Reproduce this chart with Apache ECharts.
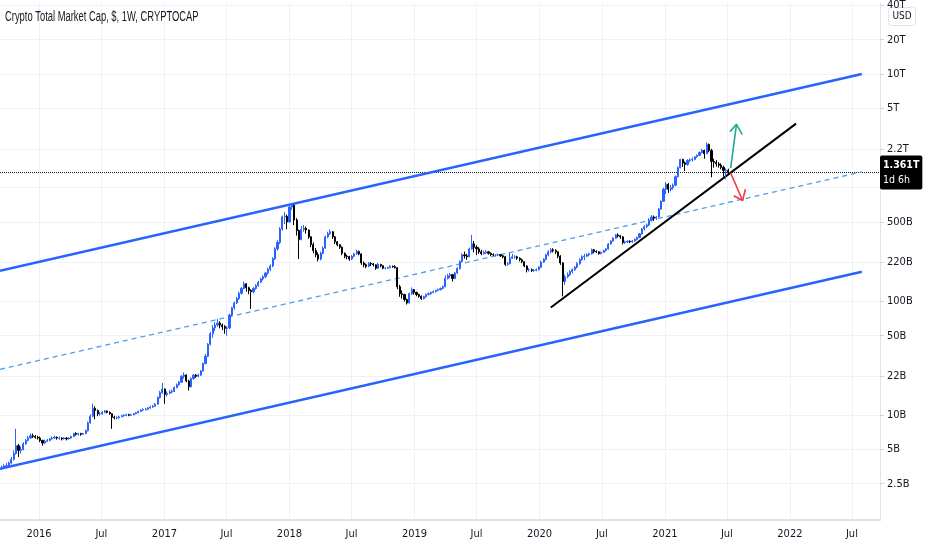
<!DOCTYPE html>
<html><head><meta charset="utf-8">
<script src="https://cdn.jsdelivr.net/npm/echarts@6/dist/echarts.min.js"></script>
<style>html,body{margin:0;padding:0;background:#fff}#c{width:932px;height:550px}</style>
</head><body><div id="c"></div>
<script>
// ---- data (values in billions of USD) ----
const chartTitle = 'Crypto Total Market Cap, $, 1W, CRYPTOCAP';
const firstWeek = '2015-09-14';
const firstOpen = 3.4;
const closes = [
3.5,3.6,3.6,3.8,4.1,4.6,5.4,4.9,5.0,5.6,
6.0,6.3,6.6,6.5,6.4,6.3,6.0,5.7,5.9,6.0,
6.2,6.3,6.4,6.3,6.3,6.2,6.3,6.2,6.3,6.5,
6.9,6.8,6.9,6.8,6.9,7.3,8.6,9.8,11.5,11.0,
10.3,10.3,10.6,10.9,10.6,10.3,9.6,9.5,9.5,9.7,
9.9,10.0,10.1,10.0,10.1,10.3,10.5,10.8,11.1,11.2,
11.3,11.6,11.8,12.0,12.5,14.3,15.8,17.0,15.2,15.6,
16.0,16.2,17.5,18.5,19.5,22.0,22.6,20.0,17.8,21.0,
22.5,22.0,22.5,24.5,28.5,33.0,42.0,52.0,58.5,62.0,
64.5,62.0,60.0,58.0,58.5,76.0,88.0,97.0,106,118,
130,143,132,125,122,130,138,148,158,165,
178,192,205,238,290,330,434,555,560,500,
676,700,520,420,350,430,440,425,370,316,
280,258,236,265,295,370,395,410,370,335,
315,300,265,250,248,236,250,262,275,262,
218,210,204,216,214,210,196,212,206,196,
196,198,204,202,198,135,117,115,104,97,
117,127,120,115,111,106,110,115,117,120,
122,125,127,130,135,160,168,172,159,178,
195,224,257,252,247,290,321,300,290,273,
263,270,273,265,258,257,257,258,252,247,
212,215,240,247,247,240,233,224,205,190,
190,187,188,190,200,222,235,257,273,285,
280,273,250,218,150,165,172,183,190,200,
215,233,247,250,257,263,285,275,273,263,
270,280,290,320,340,360,385,378,370,330,
334,338,334,340,352,365,393,434,455,470,
520,553,540,553,649,760,970,1073,970,1000,
1051,1250,1500,1774,1650,1604,1739,1760,1774,1870,
1922,2042,2126,1990,2399,2126,1700,1670,1620,1580,
1510,1420,1421,1361];
const highs = [
3.6,3.7,3.8,3.9,4.3,4.9,7.6,5.6,5.3,5.8,
6.2,6.6,6.9,6.9,6.7,6.6,6.5,6.1,6.1,6.2,
6.3,6.5,6.6,6.5,6.5,6.4,6.4,6.4,6.4,6.6,
7.0,7.1,7.0,7.0,7.0,7.5,8.8,10.2,12.6,12.0,
11.2,10.7,10.9,11.1,11.0,10.8,10.4,9.9,9.8,9.9,
10.1,10.2,10.3,10.3,10.3,10.5,10.7,11.0,11.3,11.5,
11.6,11.8,12.1,12.3,12.8,14.6,16.4,19.2,17.2,16.2,
16.6,16.8,17.9,19.0,20.0,22.5,23.8,22.8,20.5,21.5,
23.0,23.0,23.2,25.0,29.0,34.5,43.0,54.0,62.0,66.0,
70,67,64,62,61,78,90,100,110,122,
134,150,145,135,128,134,142,152,162,170,
182,198,212,245,300,345,450,570,610,580,
690,730,710,540,430,460,470,455,430,375,
330,295,270,275,305,380,410,430,415,375,
340,320,305,270,258,252,256,268,285,280,
265,225,215,222,222,218,212,218,214,208,
200,202,208,207,208,200,140,125,117,106,
120,133,129,122,117,113,112,117,120,122,
125,127,130,133,138,170,175,178,175,182,
200,230,265,275,262,298,385,340,312,300,
285,280,282,278,270,265,262,264,262,256,
252,222,268,262,255,252,245,238,226,208,
196,195,193,196,205,228,240,262,282,295,
294,288,276,255,222,172,180,188,196,205,
222,240,255,262,265,268,292,290,282,276,
275,285,295,326,345,368,392,398,385,375,
342,345,345,346,358,372,400,442,470,485,
540,575,570,565,665,775,1000,1120,1100,1060,
1090,1280,1540,1800,1800,1700,1780,1810,1850,1900,
1960,2080,2200,2160,2500,2450,2200,1800,1750,1680,
1640,1560,1480,1470];
const lows = [
3.3,3.4,3.5,3.5,3.7,4.0,4.5,4.3,4.6,4.9,
5.5,5.9,6.2,6.3,6.2,6.1,5.8,5.4,5.6,5.8,
5.9,6.1,6.2,6.1,6.1,6.0,6.1,6.0,6.1,6.2,
6.4,6.6,6.6,6.6,6.7,6.8,7.2,8.4,9.6,9.2,
9.8,9.9,10.1,10.4,10.4,10.1,7.6,9.2,9.2,9.3,
9.6,9.7,9.8,9.8,9.9,10.0,10.2,10.4,10.7,10.9,
11.0,11.1,11.4,11.6,11.9,12.4,14.0,15.4,12.6,14.6,
15.3,15.6,16.0,17.2,18.2,19.2,21.0,19.5,16.5,17.5,
20.5,21.3,21.6,22.2,24.2,28.0,32.5,41.0,48.0,55.0,
60,58,56,52,50,57,74,85,95,103,
115,128,122,116,86,118,127,135,145,153,
160,172,185,200,232,280,320,420,480,430,
495,640,470,380,236,345,410,395,355,300,
265,245,225,230,260,290,360,385,355,320,
305,290,255,240,235,228,232,245,258,255,
210,200,196,200,205,203,190,194,200,192,
191,193,196,198,195,128,110,106,100,94,
96,114,115,111,108,103,104,108,113,115,
118,120,123,125,128,133,156,160,150,157,
175,190,220,238,232,245,285,270,255,262,
255,258,262,258,250,250,248,250,246,240,
205,206,212,236,238,232,225,217,200,180,
183,182,182,184,188,196,218,230,250,265,
270,262,240,210,111,140,160,168,176,186,
195,210,228,230,245,250,258,265,266,258,
260,266,275,286,315,335,355,365,355,318,
320,325,326,328,335,345,360,385,420,440,
460,505,510,520,545,640,750,880,900,930,
960,1030,1230,1480,1520,1400,1560,1680,1700,1740,
1830,1900,2000,1800,1980,2050,1235,1500,1530,1500,
1450,1250,1187,1320];

const yTickValues  = [2.5,5,10,22,50,100,220,500,1000,2200,5000,10000,20000,40000];
const yLabelValues = [2.5,5,10,22,50,100,220,500,2200,5000,10000,20000,40000];
const xTickDates = ['2016-01-01','2016-07-01','2017-01-01','2017-07-01','2018-01-01','2018-07-01',
  '2019-01-01','2019-07-01','2020-01-01','2020-07-01','2021-01-01','2021-07-01','2022-01-01','2022-07-01'];
const lastPrice = 1361;
const lastPriceText = '1.361T';
const countdownText = '1d 6h';
const currency = 'USD';

const channelTop    = [['2015-09-09', 186.5], ['2022-07-30', 10000]];
const channelMid    = [['2015-09-09', 25.3],  ['2022-07-30', 1379]];
const channelBottom = [['2015-09-09', 3.38],  ['2022-07-30', 182.8]];
const trendLine     = [['2020-02-03', 88.6],  ['2022-01-19', 3660]];
const upArrowShaft  = [['2021-07-12', 1489],  ['2021-07-29', 3610]];
const upArrowHead   = [['2021-07-10', 3114],  ['2021-07-29', 3610], ['2021-08-15', 2932]];
const downArrowShaft= [['2021-07-12', 1347],  ['2021-08-16', 773]];
const downArrowHead = [['2021-07-21', 851],   ['2021-08-16', 773],  ['2021-08-24', 970]];

// ---- build candle table ----
function parseDay(s){ const p=s.split('-').map(Number); return Date.UTC(p[0],p[1]-1,p[2]); }
const t0 = parseDay(firstWeek);
const candles = closes.map((c,i)=>{
  const open = i===0 ? firstOpen : closes[i-1];
  return [t0 + i*7*86400000, open, c, lows[i], highs[i]];
});

const FONT = '"DejaVu Sans Condensed", "Liberation Sans Narrow", "Liberation Sans", sans-serif';
const TFONT = '"Liberation Sans", sans-serif';
const chart = echarts.init(document.getElementById('c'), null, {renderer:'canvas'});

function lineSeries(data, color, width, type){
  return { type:'line', data:data.map(d=>[parseDay(d[0]), d[1]]), symbol:'none', silent:true,
    animation:false, z:5, lineStyle:{color:color, width:width, type:type||'solid'} };
}

chart.setOption({
  animation:false,
  backgroundColor:'#ffffff',
  grid:{left:0, right:52, top:0, bottom:30, containLabel:false},
  xAxis:{
    type:'value', scale:true,
    min: parseDay('2015-09-09'), max: parseDay('2022-09-21'),
    axisLine:{show:true, lineStyle:{color:'#e0e3eb', width:2}},
    axisTick:{show:false, customValues: xTickDates.map(parseDay)},
    axisLabel:{
      customValues: xTickDates.map(parseDay),
      color:'#131722', fontSize:11, fontFamily:FONT, margin:9,
      formatter:function(v){ const d=new Date(v); return d.getUTCMonth()===6 ? 'Jul' : String(d.getUTCFullYear()); }
    },
    splitLine:{show:true, lineStyle:{color:'#eef1f7', width:1}}
  },
  yAxis:{
    type:'log', logBase:10, position:'right',
    min:1.199, max:41700,
    axisLine:{show:true, lineStyle:{color:'#e0e3eb', width:1}},
    axisTick:{show:true, length:4, lineStyle:{color:'#d1d4dc'}, customValues:yTickValues},
    axisLabel:{
      customValues: yLabelValues,
      color:'#131722', fontSize:11, fontFamily:FONT, margin:7,
      formatter:function(v){ return v>=1000 ? (v/1000)+'T' : v+'B'; }
    },
    splitLine:{show:true, lineStyle:{color:'#eef1f7', width:1}}
  },
  series:[
    lineSeries(channelTop, '#2962ff', 2.5),
    lineSeries(channelBottom, '#2962ff', 2.5),
    lineSeries(channelMid, '#4a9ff0', 1.3, [5,4]),
    {
      type:'candlestick', data:candles, encode:{x:0, y:[1,2,3,4]},
      barWidth:1.6, z:6,
      itemStyle:{color:'#2962ff', color0:'#000000', borderColor:'#2962ff', borderColor0:'#000000', borderWidth:1},
      markLine:{
        silent:true, symbol:'none', animation:false,
        lineStyle:{color:'#131722', type:'dotted', width:1},
        label:{show:true, position:'end', distance:0,
          formatter: '{a|'+lastPriceText+'}\n{b|'+countdownText+'}',
          backgroundColor:'#000000', padding:[2,3,2,3], borderRadius:2,
          rich:{ a:{color:'#ffffff', fontSize:10.5, fontWeight:'bold', fontFamily:FONT, lineHeight:15},
                 b:{color:'#ffffff', fontSize:10.5, fontFamily:FONT, lineHeight:15} }
        },
        data:[{yAxis:lastPrice}]
      }
    },
    lineSeries(trendLine, '#000000', 2),
    lineSeries(upArrowShaft, '#22ab94', 1.6),
    lineSeries(upArrowHead, '#22ab94', 1.6),
    lineSeries(downArrowShaft, '#f23645', 1.6),
    lineSeries(downArrowHead, '#f23645', 1.6)
  ],
  graphic:[
    {type:'text', x:5, y:10, scaleX:0.67, z:20, style:{text:chartTitle, fill:'#131722', fontSize:14, fontFamily:TFONT}},
    {type:'group', left:888, top:7, z:20, children:[
      {type:'rect', shape:{x:0,y:0,width:27,height:18,r:3}, style:{fill:'#ffffff', stroke:'#e0e3eb', lineWidth:1}},
      {type:'text', x:13.5, y:9, style:{text:currency, fill:'#131722', fontSize:10, fontFamily:FONT, align:'center', verticalAlign:'middle'}}
    ]}
  ]
});
</script></body></html>
